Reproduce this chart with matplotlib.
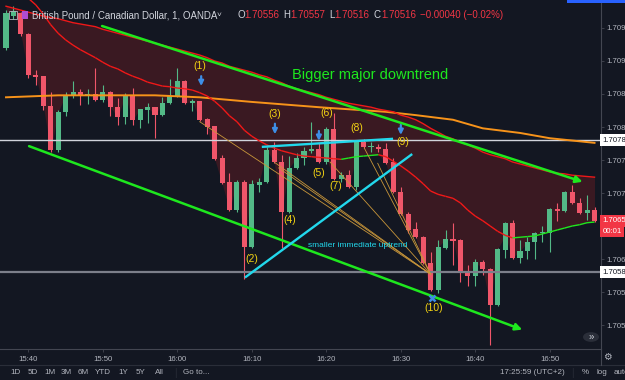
import numpy as np
import matplotlib
matplotlib.use("Agg")
import matplotlib.pyplot as plt
from matplotlib.collections import LineCollection
from matplotlib.lines import Line2D
from matplotlib.patches import Rectangle, Circle

plt.rcParams['font.family'] = ['Liberation Sans', 'DejaVu Sans']

W, H = 625, 380

# GBP/CAD, 1 minute candles 15:37 .. 16:56 (OANDA)
opens = [1.70920, 1.70968, 1.70973, 1.70941, 1.70879, 1.70877, 1.70832, 1.70765, 1.70823, 1.70848,
         1.70853, 1.70847, 1.70850, 1.70841, 1.70853, 1.70830, 1.70815, 1.70848, 1.70811, 1.70826,
         1.70830, 1.70818, 1.70836, 1.70847, 1.70870, 1.70836, 1.70839, 1.70812, 1.70802, 1.70753,
         1.70717, 1.70674, 1.70717, 1.70618, 1.70712, 1.70717, 1.70765, 1.70747, 1.70671, 1.70738,
         1.70753, 1.70764, 1.70767, 1.70747, 1.70797, 1.70721, 1.70727, 1.70709, 1.70777, 1.70770,
         1.70770, 1.70767, 1.70747, 1.70702, 1.70668, 1.70645, 1.70633, 1.70594, 1.70553, 1.70617,
         1.70630, 1.70629, 1.70582, 1.70574, 1.70595, 1.70585, 1.70530, 1.70614, 1.70655, 1.70602,
         1.70612, 1.70626, 1.70639, 1.70639, 1.70676, 1.70673, 1.70702, 1.70685, 1.70670, 1.70674]
highs = [1.70977, 1.70984, 1.70974, 1.70942, 1.70886, 1.70877, 1.70853, 1.70826, 1.70853, 1.70870,
         1.70858, 1.70858, 1.70889, 1.70864, 1.70854, 1.70844, 1.70852, 1.70859, 1.70828, 1.70836,
         1.70831, 1.70845, 1.70873, 1.70889, 1.70871, 1.70842, 1.70840, 1.70814, 1.70802, 1.70758,
         1.70730, 1.70720, 1.70720, 1.70720, 1.70723, 1.70770, 1.70777, 1.70758, 1.70756, 1.70761,
         1.70770, 1.70808, 1.70776, 1.70800, 1.70821, 1.70732, 1.70735, 1.70780, 1.70782, 1.70777,
         1.70774, 1.70776, 1.70753, 1.70709, 1.70671, 1.70656, 1.70635, 1.70611, 1.70629, 1.70644,
         1.70655, 1.70630, 1.70591, 1.70600, 1.70598, 1.70586, 1.70617, 1.70656, 1.70659, 1.70629,
         1.70633, 1.70641, 1.70650, 1.70677, 1.70685, 1.70703, 1.70712, 1.70692, 1.70697, 1.70679]
lows = [1.70917, 1.70963, 1.70938, 1.70874, 1.70864, 1.70826, 1.70762, 1.70762, 1.70817, 1.70844,
        1.70833, 1.70835, 1.70840, 1.70838, 1.70817, 1.70803, 1.70805, 1.70803, 1.70798, 1.70806,
        1.70783, 1.70817, 1.70835, 1.70845, 1.70835, 1.70824, 1.70809, 1.70789, 1.70750, 1.70714,
        1.70673, 1.70671, 1.70570, 1.70617, 1.70702, 1.70715, 1.70745, 1.70617, 1.70670, 1.70736,
        1.70742, 1.70761, 1.70745, 1.70744, 1.70720, 1.70717, 1.70708, 1.70705, 1.70768, 1.70762,
        1.70762, 1.70744, 1.70700, 1.70667, 1.70639, 1.70632, 1.70592, 1.70552, 1.70548, 1.70615,
        1.70591, 1.70565, 1.70559, 1.70559, 1.70576, 1.70470, 1.70529, 1.70602, 1.70600, 1.70594,
        1.70600, 1.70600, 1.70626, 1.70611, 1.70658, 1.70671, 1.70683, 1.70668, 1.70659, 1.70656]
closes = [1.70973, 1.70976, 1.70941, 1.70879, 1.70876, 1.70832, 1.70765, 1.70823, 1.70848, 1.70853,
          1.70847, 1.70850, 1.70841, 1.70853, 1.70830, 1.70815, 1.70848, 1.70811, 1.70827, 1.70830,
          1.70818, 1.70836, 1.70847, 1.70870, 1.70836, 1.70839, 1.70811, 1.70800, 1.70752, 1.70715,
          1.70674, 1.70717, 1.70618, 1.70714, 1.70717, 1.70765, 1.70747, 1.70671, 1.70738, 1.70753,
          1.70764, 1.70767, 1.70747, 1.70797, 1.70721, 1.70727, 1.70709, 1.70777, 1.70770, 1.70771,
          1.70767, 1.70745, 1.70702, 1.70668, 1.70644, 1.70633, 1.70594, 1.70553, 1.70618, 1.70630,
          1.70627, 1.70580, 1.70574, 1.70595, 1.70585, 1.70530, 1.70615, 1.70655, 1.70602, 1.70612,
          1.70626, 1.70639, 1.70641, 1.70676, 1.70673, 1.70702, 1.70685, 1.70670, 1.70674, 1.70658]

# moving averages, one value per candle
fast_ma = [1.71030, 1.71018, 1.71006, 1.70995, 1.70985, 1.70971, 1.70955, 1.70942, 1.70932, 1.70924,
           1.70917, 1.70911, 1.70905, 1.70898, 1.70892, 1.70888, 1.70882, 1.70877, 1.70873, 1.70868,
           1.70865, 1.70862, 1.70861, 1.70859, 1.70858, 1.70856, 1.70852, 1.70847, 1.70839, 1.70829,
           1.70817, 1.70808, 1.70795, 1.70786, 1.70779, 1.70773, 1.70768, 1.70764, 1.70761, 1.70758,
           1.70756, 1.70755, 1.70754, 1.70753, 1.70752, 1.70751, 1.70753, 1.70755, 1.70756, 1.70757,
           1.70758, 1.70755, 1.70748, 1.70741, 1.70733, 1.70724, 1.70714, 1.70703, 1.70698, 1.70695,
           1.70692, 1.70685, 1.70674, 1.70665, 1.70658, 1.70650, 1.70642, 1.70636, 1.70632, 1.70633,
           1.70634, 1.70635, 1.70638, 1.70641, 1.70644, 1.70647, 1.70650, 1.70652, 1.70655, 1.70656]
slow_ma = [1.70983, 1.70980, 1.70977, 1.70974, 1.70971, 1.70968, 1.70966, 1.70964, 1.70961, 1.70958,
           1.70956, 1.70954, 1.70952, 1.70948, 1.70945, 1.70942, 1.70939, 1.70936, 1.70933, 1.70930,
           1.70927, 1.70924, 1.70921, 1.70918, 1.70915, 1.70912, 1.70909, 1.70905, 1.70900, 1.70897,
           1.70892, 1.70889, 1.70886, 1.70883, 1.70879, 1.70876, 1.70871, 1.70867, 1.70862, 1.70858,
           1.70855, 1.70852, 1.70849, 1.70845, 1.70842, 1.70839, 1.70836, 1.70834, 1.70832, 1.70830,
           1.70827, 1.70825, 1.70823, 1.70818, 1.70815, 1.70811, 1.70805, 1.70798, 1.70792, 1.70786,
           1.70782, 1.70777, 1.70773, 1.70768, 1.70762, 1.70758, 1.70755, 1.70752, 1.70747, 1.70744,
           1.70741, 1.70738, 1.70735, 1.70732, 1.70730, 1.70729, 1.70727, 1.70726, 1.70725, 1.70724]
# long (orange) average, sampled
orange_idx = [0, 7, 13, 20, 26, 33, 42, 51, 55, 60, 64, 69, 73, 79]
orange_ma = [1.70845, 1.70848, 1.70848, 1.70848, 1.70845, 1.70838, 1.70830, 1.70823, 1.70818,
             1.70811, 1.70798, 1.70791, 1.70783, 1.70776]

time_ticks = [3, 13, 23, 33, 43, 53, 63, 73]
time_labels = ["15:40", "15:50", "16:00", "16:10", "16:20", "16:30", "16:40", "16:50"]
price_ticks = [1.7050, 1.7055, 1.7060, 1.7065, 1.7070, 1.7075, 1.7080, 1.7085, 1.7090, 1.7095]
hlines = [1.7078, 1.7058]

# hand drawn objects, (bar index, price)
major_down = [(12.9, 1.70953), (77.4, 1.70717)]
lower_line = [(3.1, 1.70771), (69.3, 1.70493)]
resist = [(34.5, 1.70770), (51.8, 1.70782)]
uptrend = [(32.2, 1.70573), (54.4, 1.70758)]
fan_start = [(26.0, 1.70808), (36.1, 1.70746), (36.6, 1.70738), (43.5, 1.70747),
             (48.1, 1.70768), (49.9, 1.70745)]
fan_end = (57.0, 1.70577)
points = [("(1)", 26.0, 1.70892), ("(2)", 33.0, 1.70600), ("(3)", 36.1, 1.70820),
          ("(4)", 38.1, 1.70659), ("(5)", 42.0, 1.70730), ("(6)", 43.1, 1.70821),
          ("(7)", 44.2, 1.70711), ("(8)", 47.1, 1.70798), ("(9)", 53.2, 1.70777),
          ("(10)", 57.4, 1.70526)]
arrows = [(26.2, 1.70877, 1.70862), (36.1, 1.70805, 1.70789),
          (42.0, 1.70794, 1.70779), (53.0, 1.70803, 1.70788)]

BG = "#131722"
UP = "#53b987"
DN = "#f0566a"
TXT = "#b2b5be"
SEP = "#434651"
GREEN = "#1ee81e"
CYAN = "#22d8ec"
YEL = "#f2d313"
BLUE = "#3d8ee6"

fig = plt.figure(figsize=(W / 100, H / 100), dpi=100, facecolor=BG)
ax = fig.add_axes([0, 31 / H, 601 / W, 349 / H], facecolor=BG)

idx = np.arange(len(opens))
o, hi, lo, c = map(np.array, (opens, highs, lows, closes))
fast = np.array(fast_ma)
slow = np.array(slow_ma)

# cloud between the slow average and price / fast average
lower = np.minimum(fast, c)
ax.fill_between(idx, slow, lower, where=slow > lower, interpolate=True,
                color="#3a1922", lw=0, zorder=1)

# candles
cols = np.where(c >= o, UP, DN)
ax.vlines(idx, lo, hi, colors=cols, lw=0.8, zorder=3)
body = np.maximum(np.abs(c - o), 0.000015)
ax.bar(idx, body, bottom=np.minimum(o, c), width=0.68, color=cols, lw=0, zorder=4)

ax.axhline(hlines[0], color="#d1d4dc", lw=1.0, zorder=5)
ax.axhline(hlines[1], color="#7c7f8a", lw=1.6, zorder=5)

# averages
ax.plot(orange_idx, orange_ma, color="#f7931a", lw=1.4, zorder=6)
ax.plot(idx, slow, color="#f01818", lw=1.0, zorder=6)
segs = [[(idx[k], fast[k]), (idx[k + 1], fast[k + 1])] for k in range(len(fast) - 1)]
seg_cols = [GREEN if fast[k + 1] > fast[k] else "#f01818" for k in range(len(fast) - 1)]
ax.add_collection(LineCollection(segs, colors=seg_cols, lw=1.0, zorder=6))

# drawings
for s in fan_start:
    ax.plot([s[0], fan_end[0]], [s[1], fan_end[1]], color="#c8963a", lw=0.6, zorder=7)
for ln in (major_down, lower_line):
    ax.annotate("", xy=ln[1], xytext=ln[0], zorder=8,
                arrowprops=dict(arrowstyle="-|>", color=GREEN, lw=1.8,
                                mutation_scale=10, shrinkA=0, shrinkB=0))
for ln in (resist, uptrend):
    ax.plot([ln[0][0], ln[1][0]], [ln[0][1], ln[1][1]], color=CYAN, lw=1.7, zorder=8)

for lab, x, y in points:
    ax.text(x, y, lab, color=YEL, fontsize=7.5, ha="center", va="center", zorder=9)
for x, y0, y1 in arrows:
    ax.annotate("", xy=(x, y1), xytext=(x, y0), zorder=9,
                arrowprops=dict(arrowstyle="-|>", color=BLUE, lw=1.6,
                                mutation_scale=7, shrinkA=0, shrinkB=0))
ax.plot(57.2, 1.70541, marker="x", color=BLUE, ms=5, mew=1.8, zorder=9)

ax.text(48.9, 1.70879, "Bigger major downtrend", color=GREEN, fontsize=10.5,
        ha="center", va="center", zorder=9)
ax.text(47.2, 1.70620, "smaller immediate uptrend", color=CYAN, fontsize=6,
        ha="center", va="center", zorder=9)

# axes
ax.set_xlim(-0.805, 79.87)
ax.set_ylim(1.704637, 1.709924)
ax.set_xticks(time_ticks, time_labels)
ax.yaxis.tick_right()
# the 1.7065 label sits under the live price tag
ax.set_yticks(price_ticks, ["" if p == 1.7065 else f"{p:.4f}" for p in price_ticks])
ax.tick_params(axis="x", colors=SEP, labelcolor=TXT, labelsize=5.6, length=2, width=0.6, pad=3)
ax.tick_params(axis="y", colors=SEP, labelcolor=TXT, labelsize=5.6, length=2, width=0.6, pad=2)
for side in ("top", "left"):
    ax.spines[side].set_visible(False)
for side in ("right", "bottom"):
    ax.spines[side].set_color(SEP)
    ax.spines[side].set_linewidth(0.8)

ytr = ax.get_yaxis_transform()
for p in hlines:
    ax.text(1.003, p, f"{p:.4f}", transform=ytr, fontsize=5.6, color=BG, ha="left", va="center",
            zorder=12, bbox=dict(boxstyle="square,pad=0.3", fc="white", ec="none"))
ax.text(1.003, closes[-1], f"{closes[-1]:.5f}", transform=ytr, fontsize=5.6, color="white",
        ha="left", va="center", zorder=12,
        bbox=dict(boxstyle="square,pad=0.3", fc="#f23645", ec="none"))
ax.annotate("00:01", xy=(1.003, closes[-1]), xycoords=ytr, xytext=(0, -7.5),
            textcoords="offset points", fontsize=5.6, color="white", ha="left", va="center",
            zorder=12, bbox=dict(boxstyle="square,pad=0.3", fc="#f23645", ec="none"))


def ftext(x, y, s, **kw):
    fig.text(x / W, 1 - y / H, s, va="center", **kw)


# header
fig.add_artist(Rectangle((9 / W, 1 - 19 / H), 8 / W, 8 / H, fill=False, ec=TXT, lw=0.6))
fig.add_artist(Rectangle((22 / W, 1 - 19 / H), 6 / W, 8 / H, fc="#b04cd1", ec="none"))
ftext(32, 15, "British Pound / Canadian Dollar, 1, OANDA", color="#d1d4dc", fontsize=7)
ftext(217, 15, "\u02c5", color="#d1d4dc", fontsize=6)
for x, k, v, kw in [(237, "O", "1.70556", 7.8), (283, "H", "1.70557", 7.2),
                    (329, "L", "1.70516", 5.8), (374, "C", "1.70516", 7.2)]:
    ftext(x, 15, k, color="#d1d4dc", fontsize=7)
    ftext(x + kw, 15, v, color="#f23645", fontsize=7)
ftext(420, 15, "\u22120.00040 (\u22120.02%)", color="#f23645", fontsize=7)
fig.add_artist(Rectangle((567 / W, 1 - 3 / H), 58 / W, 3 / H, fc="#2962ff", ec="none"))

# bottom bars
fig.add_artist(Line2D([0, 1], [1 - 365 / H] * 2, color="#2a2e39", lw=0.8))
fig.add_artist(Line2D([601 / W] * 2, [1 - 349 / H, 1 - 365 / H], color=SEP, lw=0.8))
fig.add_artist(Circle((591 / W, 1 - 337 / H), 8 / W, fc="#2a2e39", ec="none",
                      transform=fig.transFigure))
ftext(591, 337, "\u00bb", color="#d1d4dc", fontsize=7, ha="center")
ftext(607, 357, "\u2699", color=TXT, fontsize=7, ha="center")
for x, s in [(16, "1D"), (33, "5D"), (50, "1M"), (66, "3M"), (83, "6M"), (103, "YTD"),
             (123, "1Y"), (140, "5Y"), (159, "All"), (196, "Go to...")]:
    ftext(x, 373, s, color=TXT, fontsize=5.8, ha="center")
ftext(175, 373, "|", color="#2a2e39", fontsize=7, ha="center")
ftext(532, 373, "17:25:59 (UTC+2)", color=TXT, fontsize=5.8, ha="center")
ftext(572, 373, "|", color="#2a2e39", fontsize=7, ha="center")
for x, s in [(585, "%"), (602, "log"), (621, "auto")]:
    ftext(x, 373, s, color=TXT, fontsize=5.8, ha="center")

fig.savefig("out.png", dpi=100, facecolor=BG)
